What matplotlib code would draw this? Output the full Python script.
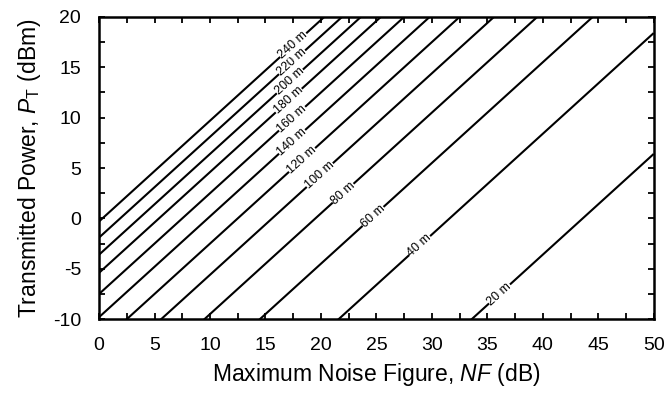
import matplotlib
matplotlib.use('Agg')
import matplotlib.pyplot as plt
import numpy as np
from matplotlib.ticker import MultipleLocator

# Distances (m) and the PT value (dBm) each line has at NF = 0
distances = [20, 40, 60, 80, 100, 120, 140, 160, 180, 200, 220, 240]
pt_at_nf0 = [-43.6, -31.6, -24.5, -19.5, -15.6, -12.5, -9.8, -7.5, -5.4, -3.6, -1.9, -0.3]
# NF position of each inline label
label_nf = [36.1, 28.9, 24.7, 22.0, 19.9, 18.3, 17.4, 17.4, 17.1, 17.2, 17.4, 17.5]

nf_range = [0, 50]

plt.rcParams['font.family'] = ['Liberation Sans', 'DejaVu Sans']
plt.rcParams['mathtext.fontset'] = 'custom'
plt.rcParams['mathtext.rm'] = 'Liberation Sans'
plt.rcParams['mathtext.it'] = 'Liberation Sans:italic'
plt.rcParams['axes.unicode_minus'] = False

fig = plt.figure(figsize=(6.65, 3.94), dpi=100)
ax = fig.add_axes([0.149, 0.190, 0.834, 0.767])

for d, off, lx in zip(distances, pt_at_nf0, label_nf):
    nf = np.array(nf_range)
    ax.plot(nf, nf + off, color='black', lw=1.5, solid_capstyle='butt')
    ax.text(lx, lx + off, '%d m' % d, fontsize=9, ha='center', va='center',
            rotation=45, transform_rotates_text=True, rotation_mode='anchor',
            bbox=dict(facecolor='white', edgecolor='none', pad=0.2))

ax.set_xlim(0, 50)
ax.set_ylim(-10, 20)
ax.xaxis.set_major_locator(MultipleLocator(5))
ax.xaxis.set_minor_locator(MultipleLocator(2.5))
ax.yaxis.set_major_locator(MultipleLocator(5))
ax.yaxis.set_minor_locator(MultipleLocator(2.5))
ax.tick_params(which='both', direction='in', top=True, right=True,
               length=4.5, width=1.3, labelsize=14, pad=13)
for s in ax.spines.values():
    s.set_linewidth(1.8)

ax.set_xlabel('Maximum Noise Figure, $\\mathit{NF}$ (dB)', fontsize=16.5, labelpad=5)
ax.set_ylabel('Transmitted Power, $\\mathit{P}_\\mathrm{T}$ (dBm)', fontsize=16.5, labelpad=7)

fig.savefig('out.png', dpi=100)
